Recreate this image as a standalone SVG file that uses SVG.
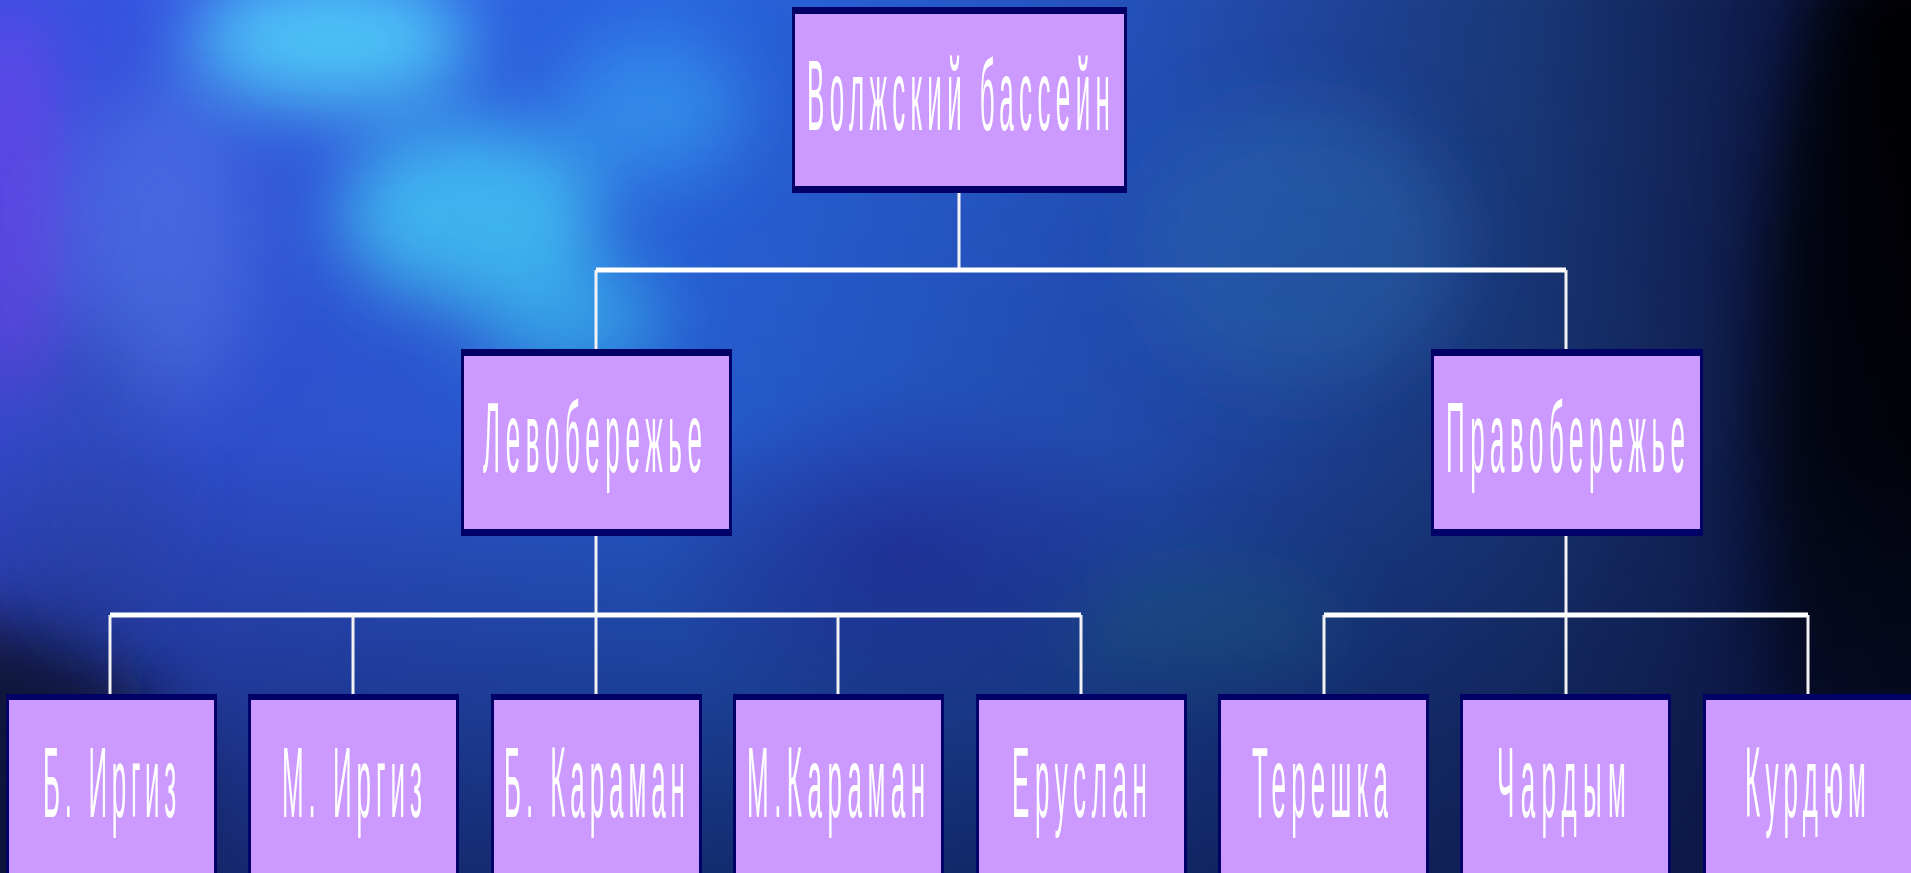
<svg xmlns="http://www.w3.org/2000/svg" width="1911" height="873" viewBox="0 0 1911 873">
<defs>
  <linearGradient id="bgH" x1="0" y1="0" x2="1" y2="0">
    <stop offset="0" stop-color="#3a50e0"/>
    <stop offset="0.35" stop-color="#2a66e0"/>
    <stop offset="0.6" stop-color="#2450b8"/>
    <stop offset="0.8" stop-color="#1a3878"/>
    <stop offset="0.93" stop-color="#0e1a48"/>
    <stop offset="1" stop-color="#04040c"/>
  </linearGradient>
  <linearGradient id="bgV" x1="0" y1="0" x2="0" y2="1">
    <stop offset="0" stop-color="#0a1440" stop-opacity="0"/>
    <stop offset="0.5" stop-color="#0a1440" stop-opacity="0.12"/>
    <stop offset="1" stop-color="#0a1440" stop-opacity="0.7"/>
  </linearGradient>
  <radialGradient id="midDark" cx="0.5" cy="0.5" r="0.5">
    <stop offset="0" stop-color="#2a28a8" stop-opacity="0.6"/>
    <stop offset="1" stop-color="#2a28a8" stop-opacity="0"/>
  </radialGradient>
  <filter id="blur" x="-20%" y="-20%" width="140%" height="140%">
    <feGaussianBlur stdDeviation="35"/>
  </filter>
  <style>
    .frame { fill: #000066; }
    .fill { fill: #CC99FF; }
    .lbl { font-family: "Liberation Sans", Arial, sans-serif; font-size: 100px; fill: #FFFFFF; }
    .h { stroke: #FFFFFF; stroke-width: 5; fill: none; }
    .v { stroke: #F2F2F2; stroke-width: 3; fill: none; }
  </style>
</defs>

<g id="background">
  <rect x="0" y="0" width="1911" height="873" fill="url(#bgH)"/>
  <g filter="url(#blur)">
    <ellipse cx="330" cy="40" rx="140" ry="70" fill="#55e6ff" opacity="0.75"/>
    <ellipse cx="470" cy="215" rx="130" ry="90" fill="#48d4ff" opacity="0.8"/>
    <ellipse cx="570" cy="320" rx="90" ry="60" fill="#40c8ff" opacity="0.7"/>
    <ellipse cx="650" cy="110" rx="90" ry="70" fill="#3aa8f8" opacity="0.6"/>
    <ellipse cx="160" cy="250" rx="90" ry="160" fill="#5a80f0" opacity="0.55"/>
    <ellipse cx="10" cy="200" rx="50" ry="200" fill="#7048f0" opacity="0.8"/>
    <ellipse cx="1200" cy="630" rx="140" ry="60" fill="#1f7a98" opacity="0.5"/>
    <ellipse cx="1300" cy="250" rx="160" ry="140" fill="#2a70b8" opacity="0.45"/>
    <ellipse cx="0" cy="820" rx="180" ry="200" fill="#080818" opacity="0.85"/>
    <ellipse cx="90" cy="470" rx="80" ry="160" fill="#3050c0" opacity="0.5"/>
    <ellipse cx="1880" cy="450" rx="120" ry="500" fill="#020208" opacity="0.8"/>
  </g>
  <ellipse cx="900" cy="550" rx="260" ry="170" fill="url(#midDark)"/>
  <rect x="0" y="0" width="1911" height="873" fill="url(#bgV)"/>
</g>

<g id="connectors">
  <line class="v" x1="959" y1="193" x2="959" y2="270"/>
  <line class="h" x1="596" y1="270" x2="1566" y2="270"/>
  <line class="v" x1="596" y1="270" x2="596" y2="349"/>
  <line class="v" x1="1566" y1="270" x2="1566" y2="349"/>
  <line class="v" x1="596" y1="536" x2="596" y2="615"/>
  <line class="v" x1="1566" y1="536" x2="1566" y2="615"/>
  <line class="h" x1="110" y1="615" x2="1081" y2="615"/>
  <line class="h" x1="1324" y1="615" x2="1808" y2="615"/>
  <line class="v" x1="110" y1="615" x2="110" y2="694"/>
  <line class="v" x1="353" y1="615" x2="353" y2="694"/>
  <line class="v" x1="596" y1="615" x2="596" y2="694"/>
  <line class="v" x1="838" y1="615" x2="838" y2="694"/>
  <line class="v" x1="1081" y1="615" x2="1081" y2="694"/>
  <line class="v" x1="1324" y1="615" x2="1324" y2="694"/>
  <line class="v" x1="1566" y1="615" x2="1566" y2="694"/>
  <line class="v" x1="1808" y1="615" x2="1808" y2="694"/>
</g>

<g id="node-volga">
  <rect class="frame" x="792" y="7" width="335" height="186"/>
  <rect class="fill" x="795" y="14" width="329" height="172"/>
  <text class="lbl" transform="translate(807 130) scale(0.26 1)" x="0" y="0" textLength="1165" lengthAdjust="spacing">Волжский бассейн</text>
</g>

<g id="node-left">
  <rect class="frame" x="461" y="349" width="271" height="187"/>
  <rect class="fill" x="464" y="356" width="265" height="173"/>
  <text class="lbl" transform="translate(483 472) scale(0.26 1)" x="0" y="0" textLength="842" lengthAdjust="spacing">Левобережье</text>
</g>

<g id="node-right">
  <rect class="frame" x="1431" y="349" width="272" height="187"/>
  <rect class="fill" x="1434" y="356" width="266" height="173"/>
  <text class="lbl" transform="translate(1446 472) scale(0.26 1)" x="0" y="0" textLength="919" lengthAdjust="spacing">Правобережье</text>
</g>

<g id="node-b-irgiz">
  <rect class="frame" x="6" y="694" width="211" height="190"/>
  <rect class="fill" x="9" y="700" width="205" height="184"/>
  <text class="lbl" transform="translate(43 817) scale(0.26 1)" x="0" y="0" textLength="512" lengthAdjust="spacing">Б. Иргиз</text>
</g>

<g id="node-m-irgiz">
  <rect class="frame" x="248" y="694" width="211" height="190"/>
  <rect class="fill" x="251" y="700" width="205" height="184"/>
  <text class="lbl" transform="translate(282 817) scale(0.26 1)" x="0" y="0" textLength="538" lengthAdjust="spacing">М. Иргиз</text>
</g>

<g id="node-b-karaman">
  <rect class="frame" x="491" y="694" width="211" height="190"/>
  <rect class="fill" x="494" y="700" width="205" height="184"/>
  <text class="lbl" transform="translate(504 817) scale(0.26 1)" x="0" y="0" textLength="696" lengthAdjust="spacing">Б. Караман</text>
</g>

<g id="node-m-karaman">
  <rect class="frame" x="733" y="694" width="211" height="190"/>
  <rect class="fill" x="736" y="700" width="205" height="184"/>
  <text class="lbl" transform="translate(747 817) scale(0.26 1)" x="0" y="0" textLength="685" lengthAdjust="spacing">М.Караман</text>
</g>

<g id="node-eruslan">
  <rect class="frame" x="976" y="694" width="211" height="190"/>
  <rect class="fill" x="979" y="700" width="205" height="184"/>
  <text class="lbl" transform="translate(1012 817) scale(0.26 1)" x="0" y="0" textLength="519" lengthAdjust="spacing">Еруслан</text>
</g>

<g id="node-tereshka">
  <rect class="frame" x="1218" y="694" width="211" height="190"/>
  <rect class="fill" x="1221" y="700" width="205" height="184"/>
  <text class="lbl" transform="translate(1252 817) scale(0.26 1)" x="0" y="0" textLength="523" lengthAdjust="spacing">Терешка</text>
</g>

<g id="node-chardym">
  <rect class="frame" x="1460" y="694" width="211" height="190"/>
  <rect class="fill" x="1463" y="700" width="205" height="184"/>
  <text class="lbl" transform="translate(1497 817) scale(0.26 1)" x="0" y="0" textLength="496" lengthAdjust="spacing">Чардым</text>
</g>

<g id="node-kurdyum">
  <rect class="frame" x="1703" y="694" width="211" height="190"/>
  <rect class="fill" x="1706" y="700" width="205" height="184"/>
  <text class="lbl" transform="translate(1745 817) scale(0.26 1)" x="0" y="0" textLength="465" lengthAdjust="spacing">Курдюм</text>
</g>
</svg>
